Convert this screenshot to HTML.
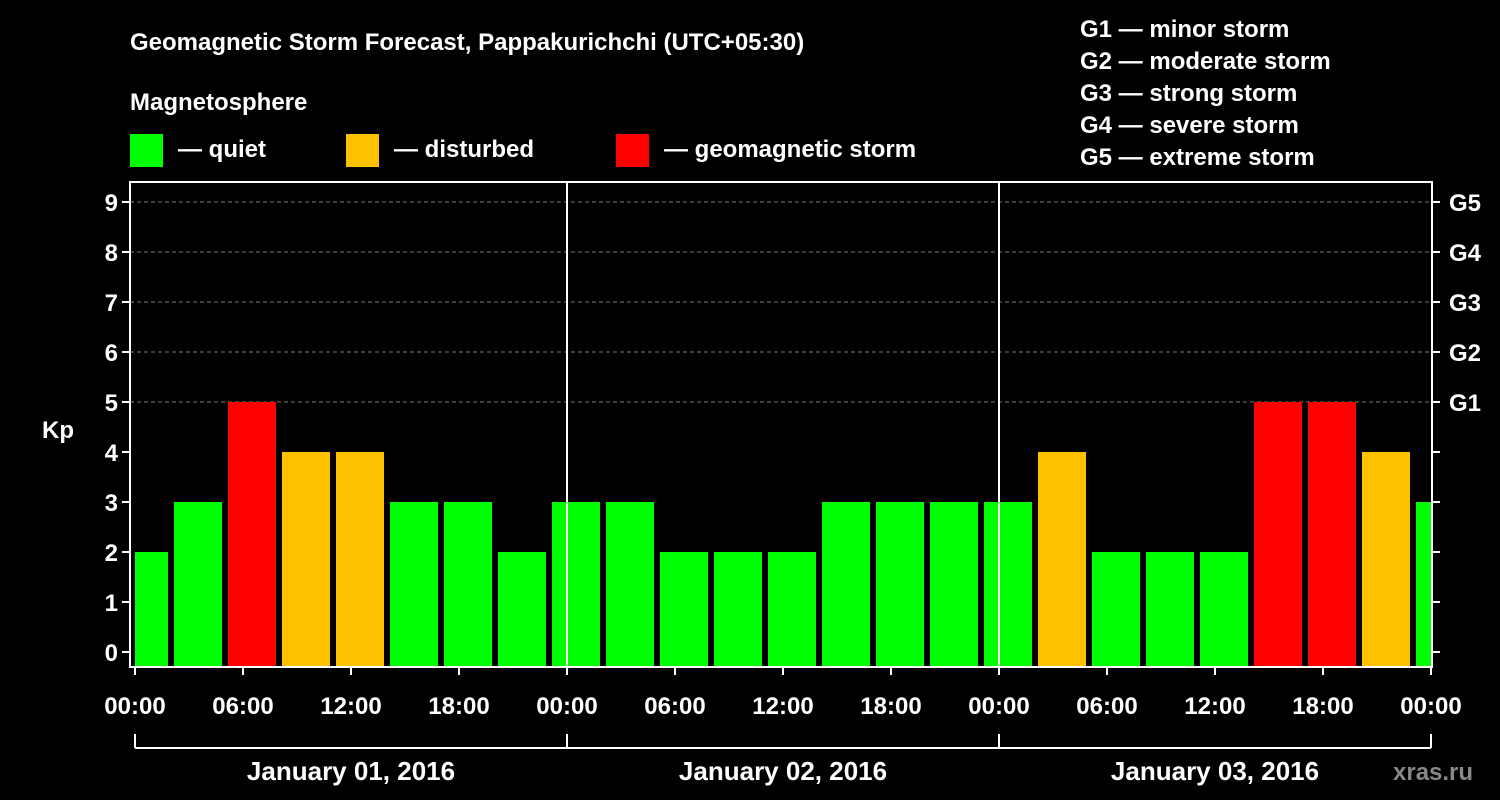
<!DOCTYPE html>
<html><head><meta charset="utf-8"><style>
html,body{margin:0;padding:0;background:#000;}
svg{display:block;font-family:"Liberation Sans",Arial,sans-serif;font-weight:bold;}
</style></head><body>
<svg id="chart" width="1500" height="800" viewBox="0 0 1500 800" xmlns="http://www.w3.org/2000/svg">
<rect width="1500" height="800" fill="#000"/>
<text x="130" y="50" fill="#fff" font-size="24">Geomagnetic Storm Forecast, Pappakurichchi (UTC+05:30)</text>
<text x="130" y="110" fill="#fff" font-size="24">Magnetosphere</text>
<rect x="130" y="134" width="33" height="33" fill="#00ff00"/>
<text x="178" y="157" fill="#fff" font-size="24">— quiet</text>
<rect x="346" y="134" width="33" height="33" fill="#ffc000"/>
<text x="394" y="157" fill="#fff" font-size="24">— disturbed</text>
<rect x="616" y="134" width="33" height="33" fill="#ff0000"/>
<text x="664" y="157" fill="#fff" font-size="24">— geomagnetic storm</text>
<g fill="#fff" font-size="24">
<text x="1080" y="37">G1 — minor storm</text>
<text x="1080" y="69">G2 — moderate storm</text>
<text x="1080" y="101">G3 — strong storm</text>
<text x="1080" y="133">G4 — severe storm</text>
<text x="1080" y="165">G5 — extreme storm</text>
</g>
<text x="42" y="438" fill="#fff" font-size="24">Kp</text>
<text x="1393" y="780" fill="#888" font-size="24">xras.ru</text>
<g id="plot"></g>
</svg>
<script>
const kpValues = [2,3,5,4,4,3,3,2,3,3,2,2,2,3,3,3,3,4,2,2,2,5,5,4,3];
const binStartHours = [-1,2,5,8,11,14,17,20,23,26,29,32,35,38,41,44,47,50,53,56,59,62,65,68,71];
const yTicks = [0,1,2,3,4,5,6,7,8,9];
const gLabels = ["G1","G2","G3","G4","G5"];
const xTickLabels = ["00:00","06:00","12:00","18:00","00:00","06:00","12:00","18:00","00:00","06:00","12:00","18:00","00:00"];
const dayLabels = ["January 01, 2016","January 02, 2016","January 03, 2016"];

const NS="http://www.w3.org/2000/svg";
const plot=document.getElementById('plot');
const X0=135, PXH=18, L=130, R=1432, T=182, B=667;
const x=h=>X0+h*PXH;
const y=v=>652-v*50;
function mk(tag,attrs){const e=document.createElementNS(NS,tag);for(const k in attrs)e.setAttribute(k,attrs[k]);plot.appendChild(e);return e;}
function color(v){return v>=5?"#ff0000":v>=4?"#ffc000":"#00ff00";}

// gridlines
for(let v=5;v<=9;v++){
  const g=mk('line',{x1:L,x2:R,y1:y(v),y2:y(v),stroke:"#777","stroke-dasharray":"4,3","stroke-width":1});
  
  
}
// bars
kpValues.forEach((v,i)=>{
  let x1=x(binStartHours[i])+3, x2=x(binStartHours[i]+3)-3;
  x1=Math.max(x1,X0); x2=Math.min(x2,x(72));
  const r=mk('rect',{x:x1,y:y(v),width:x2-x1,height:B-y(v),fill:color(v)});
  
  
});
// day separators
[24,48].forEach(h=>{
  const l=mk('line',{x1:x(h),x2:x(h),y1:T,y2:B,stroke:"#fff","stroke-width":2});
  
  
});
// frame
const f=mk('rect',{x:L,y:T,width:R-L,height:B-T,fill:"none",stroke:"#fff","stroke-width":2});


// y ticks
yTicks.forEach(v=>{
  const t=mk('line',{x1:L-8,x2:L,y1:y(v),y2:y(v),stroke:"#fff","stroke-width":2});
  
  
  const t2=mk('line',{x1:R,x2:R+8,y1:y(v),y2:y(v),stroke:"#fff","stroke-width":2});
  
  
  const tx=mk('text',{x:L-12,y:y(v)+9,fill:"#fff","font-size":24,"text-anchor":"end"});
  tx.textContent=v;
  
  
});
gLabels.forEach((g,i)=>{
  const tx=mk('text',{x:R+17,y:y(5+i)+9,fill:"#fff","font-size":24});
  tx.textContent=g;
  
  
});
// x ticks
xTickLabels.forEach((s,i)=>{
  const h=i*6;
  const t=mk('line',{x1:x(h),x2:x(h),y1:B,y2:B+8,stroke:"#fff","stroke-width":2});
  
  
  const tx=mk('text',{x:x(h),y:714,fill:"#fff","font-size":24,"text-anchor":"middle"});
  tx.textContent=s;
  
  
});
// day bracket
const br=mk('line',{x1:x(0),x2:x(72),y1:748,y2:748,stroke:"#fff","stroke-width":2});


[0,24,48,72].forEach(h=>{
  const t=mk('line',{x1:x(h),x2:x(h),y1:734,y2:748,stroke:"#fff","stroke-width":2});
  
  
});
dayLabels.forEach((d,i)=>{
  const tx=mk('text',{x:x(i*24+12),y:780,fill:"#fff","font-size":26,"text-anchor":"middle"});
  tx.textContent=d;
  
  
});
</script>
</body></html>
